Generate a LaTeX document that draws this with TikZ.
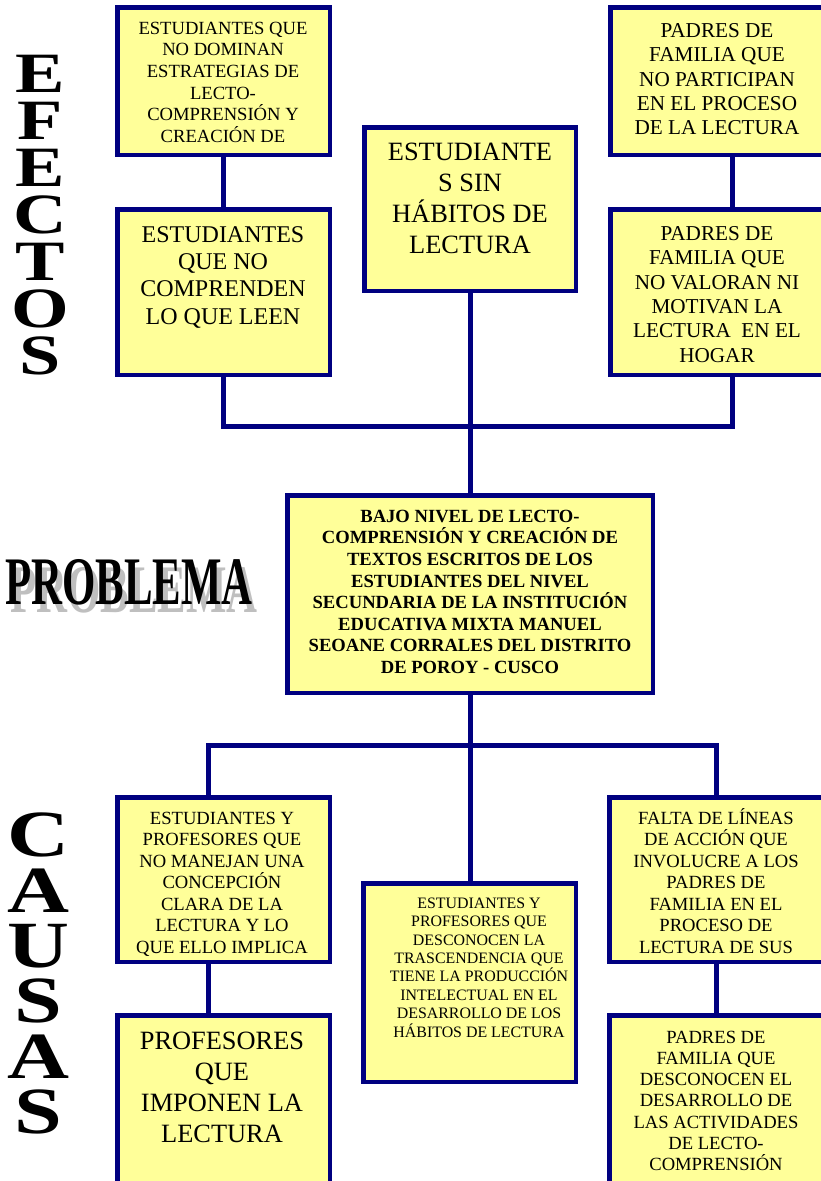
\documentclass[tikz,border=0pt]{standalone}
\usepackage{fontspec}
\setmainfont{Liberation Serif}
\definecolor{navy}{HTML}{000080}
\definecolor{paleyellow}{HTML}{FFFF99}
\newcommand{\fs}[2]{\fontsize{#1}{#2}\selectfont}
\newcommand{\topst}{\rule{0pt}{1em}}
\tikzset{
  box/.style={draw=navy, fill=paleyellow, line width=4.5pt, inner sep=0pt},
  link/.style={draw=navy, line width=5pt},
  txt/.style={align=center, inner sep=0pt, anchor=north},
  bigletter/.style={inner sep=0pt, font=\bfseries\fs{57}{57}},
}

\begin{document}
\begin{tikzpicture}[x=1pt,y=-1pt]
    \clip (0,0) rectangle (821,1181);
    % efectos
    \node[box, minimum width=212.5, minimum height=147.5] (e1a) at (223.5,81) {};
    \node[box, minimum width=212.5, minimum height=165.5] (e1b) at (223.5,292) {};
    \node[box, minimum width=211.5, minimum height=163.5] (e2) at (470,209) {};
    \node[box, minimum width=213.5, minimum height=147.5] (e3a) at (717,81) {};
    \node[box, minimum width=213.5, minimum height=165.5] (e3b) at (717,292) {};
    % problema
    \node[box, minimum width=365.5, minimum height=197.5] (prob) at (470,594) {};
    % causas
    \node[box, minimum width=212.5, minimum height=164.5] (c1a) at (223.5,879.5) {};
    \node[box, minimum width=212.5, minimum height=182.5] (c1b) at (223.5,1106.5) {};
    \node[box, minimum width=212.5, minimum height=198.5] (c2) at (469.5,982.5) {};
    \node[box, minimum width=214.5, minimum height=164.5] (c3a) at (716.5,879.5) {};
    \node[box, minimum width=214.5, minimum height=182.5] (c3b) at (716.5,1106.5) {};

    \coordinate (k3) at (732,426);
    \coordinate (k4) at (208,745);
    \coordinate (k6) at (716,745);
    \draw[link] (e1a) -- (e1b);
    \draw[link] (e3a.south -| k3) -- (e3b.north -| k3);
    \draw[link] (e1b.south) |- (k3) -- (e3b.south -| k3);
    \draw[link] (e2.south) -- (prob.north);
    \draw[link] (c1a.north -| k4) |- (k6) -- (c3a.north -| k6);
    \draw[link] (prob.south) -- (c2.north -| prob.south);
    \draw[link] (c1a.south -| k4) -- (c1b.north -| k4);
    \draw[link] (c3a.south -| k6) -- (c3b.north -| k6);

    % texts
    \node[txt, font=\fs{18.6}{21.6}] (t1a) at (223,15.4) {\topst ESTUDIANTES QUE\\NO DOMINAN\\ESTRATEGIAS DE\\LECTO-\\COMPRENSIÓN Y\\CREACIÓN DE};
    \node[txt, font=\fs{24}{27.3}] (t1b) at (223,218) {\topst ESTUDIANTES\\QUE NO\\COMPRENDEN\\LO QUE LEEN};
    \node[txt, font=\fs{26.4}{31}] (t2) at (470,133.6) {\topst ESTUDIANTE\\S SIN\\HÁBITOS DE\\LECTURA};
    \node[txt, font=\fs{21.2}{24.4}] (t3a) at (717,15.8) {\topst PADRES DE\\FAMILIA QUE\\NO PARTICIPAN\\EN EL PROCESO\\DE LA LECTURA};
    \node[txt, font=\fs{21.2}{24.4}] (t3b) at (717,218.8) {\topst PADRES DE\\FAMILIA QUE\\NO VALORAN NI\\MOTIVAN LA\\LECTURA~ EN EL\\HOGAR};
    \node[txt, font=\bfseries\fs{18.6}{21.6}] (tp) at (470,503.4) {\topst BAJO NIVEL DE LECTO-\\COMPRENSIÓN Y CREACIÓN DE\\TEXTOS ESCRITOS DE LOS\\ESTUDIANTES DEL NIVEL\\SECUNDARIA DE LA INSTITUCIÓN\\EDUCATIVA MIXTA MANUEL\\SEOANE CORRALES DEL DISTRITO\\DE POROY - CUSCO};
    \node[txt, font=\fs{18.6}{21.5}] (tc1a) at (222,805.4) {\topst ESTUDIANTES Y\\PROFESORES QUE\\NO MANEJAN UNA\\CONCEPCIÓN\\CLARA DE LA\\LECTURA Y LO\\QUE ELLO IMPLICA};
    \node[txt, font=\fs{26.4}{31}] (tc1b) at (222,1022.6) {\topst PROFESORES\\QUE\\IMPONEN LA\\LECTURA};
    \node[txt, font=\fs{15.9}{18.4}] (tc2) at (479,892.1) {\topst ESTUDIANTES Y\\PROFESORES QUE\\DESCONOCEN LA\\TRASCENDENCIA QUE\\TIENE LA PRODUCCIÓN\\INTELECTUAL EN EL\\DESARROLLO DE LOS\\HÁBITOS DE LECTURA};
    \node[txt, font=\fs{18.6}{21.5}] (tc3a) at (716,805.4) {\topst FALTA DE LÍNEAS\\DE ACCIÓN QUE\\INVOLUCRE A LOS\\PADRES DE\\FAMILIA EN EL\\PROCESO DE\\LECTURA DE SUS};
    \node[txt, font=\fs{18.6}{21.2}] (tc3b) at (716,1024.4) {\topst PADRES DE\\FAMILIA QUE\\DESCONOCEN EL\\DESARROLLO DE\\LAS ACTIVIDADES\\DE LECTO-\\COMPRENSIÓN};

    % side titles
    \foreach \l [count=\i] in {E,F,E,C,T,O,S}
        \node[bigletter] (ef\i) at (40,{74+47*(\i-1)}) {\scalebox{1.3}[1]{\l}};
    \foreach \l [count=\i] in {C,A,U,S,A,S}
        \node[bigletter, font=\bfseries\fs{66}{66}] (ca\i) at (38,{835+55.4*(\i-1)}) {\scalebox{1.3}[1]{\l}};
    \node[inner sep=0pt, text=black!25, font=\bfseries\fs{68}{68}] (probshadow) at (134,590) {\scalebox{0.63}[1]{PROBLEMA}};
    \node[inner sep=0pt, font=\bfseries\fs{68}{68}] (problabel) at (129,582.5) {\scalebox{0.63}[1]{PROBLEMA}};
\end{tikzpicture}
\end{document}
